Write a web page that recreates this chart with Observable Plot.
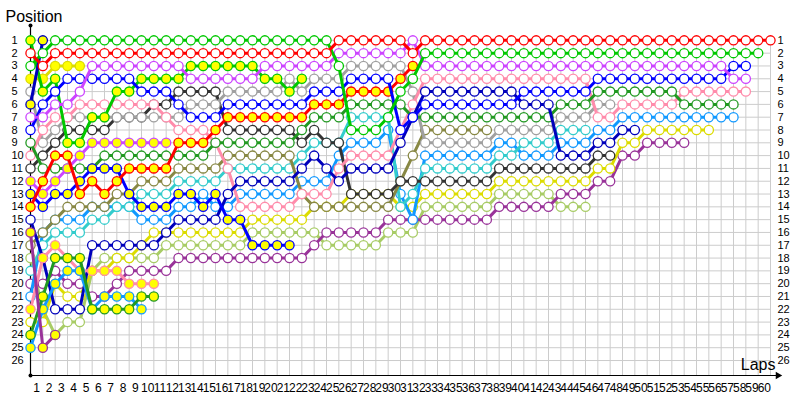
<!DOCTYPE html>
<html><head><meta charset="utf-8">
<script src="https://cdn.jsdelivr.net/npm/d3@7"></script>
<script src="https://cdn.jsdelivr.net/npm/@observablehq/plot@0.6"></script>
<style>
body{margin:0;background:#fff;}
svg{font-family:"Liberation Sans",Arial,sans-serif;}
</style></head><body><div id="chart"></div>
<script>
const laps = d3.range(1, 61);
const gridLaps = d3.range(0, 61);
const positions = d3.range(1, 27);

// positions per lap (index = lap, lap 0 = grid)
const red1 = [2,3,2,2,2,2,2,2,2,2, 2,2,2,2,2,2,2,2,2,2, 2,2,2,2,2,1,1,1,1,1, 1,2,1,1,1,1,1,1,1,1, 1,1,1,1,1,1,1,1,1,1, 1,1,1,1,1,1,1,1,1,1, 1];
const green1 = [3,2,1,1,1,1,1,1,1,1, 1,1,1,1,1,1,1,1,1,1, 1,1,1,1,1,3,8,8,8,7, 5,4,2,2,2,2,2,2,2,2, 2,2,2,2,2,2,2,2,2,2, 2,2,2,2,2,2,2,2,2,2];
const violet1 = [7,7,6,6,5,3,3,3,3,3, 3,3,3,4,4,4,4,4,4,3, 3,3,3,3,3,2,2,2,2,2, 2,1,3,3,3,3,3,3,3,3, 3,3,3,3,3,3,3,3,3,3, 3,3,3,3,3,3,3,4,4];
const blue1 = [8,6,5,4,4,4,4,4,4,5, 5,5,6,7,7,7,6,6,6,6, 6,6,6,5,5,5,4,4,4,4, 8,7,6,6,6,6,6,6,6,6, 5,5,5,5,5,5,4,4,4,4, 4,4,4,4,4,4,4,3,3];
const navy1 = [15,18,22,22,22,17,17,17,17,17, 17,16,15,15,15,15,13,12,12,12, 12,12,11,10,11,12,11,11,11,11, 9,7,5,5,5,5,5,5,5,5, 6,6,6,10,10,10,9,9,8,8];
const dkgreen1 = [9,11,11,11,11,11,10,10,10,10, 10,10,10,10,10,9,9,9,9,9, 9,9,8,7,7,7,6,6,6,6, 6,7,7,7,7,7,7,7,7,7, 7,7,7,6,6,6,5,5,5,5, 5,5,5,6,6,6,6,6];
const gray1 = [5,9,8,7,7,7,7,7,7,7, 7,7,7,6,6,6,5,5,5,5, 5,4,5,4,4,4,3,3,3,3, 3,5,9,9,9,9,9,9,8,8, 8,8,8,7,7,7,6,6];
const black1 = [11,10,9,8,8,8,8,7,7,7, 6,6,5,5,5,5,8,8,8,8, 8,8,9,8,9,9,13,13,13,13, 12,12,12,12,12,12,12,12,11,11, 11,11,11,11,11,11,10,10];
const pink1 = [10,8,7,7,6,6,6,6,6,6, 6,7,8,8,8,9,11,14,14,14, 14,14,13,13,13,11,10,10,10,10, 8,6,4,4,4,4,4,4,4,4, 4,4,4,4,4,4,7,7,6,6, 6,6,6,5,5,5,5,5,5];
const olive1 = [17,16,15,14,14,14,14,13,13,12, 12,12,11,11,11,11,10,10,10,10, 10,10,13,14,14,14,14,14,14,14, 12,10,8,8,8,8,8,8];
const cyan1 = [19,17,16,16,16,15,15,14,14,13, 13,13,12,12,12,12,11,11,11,11, 11,11,10,9,9,9,7,7,7,7, 14,13,11,11,11,11,11,11,10,10, 9,9,9,8,8,8];
const sky1 = [21,16,15,15,15,14,14,14,14,15, 15,15,14,14,13,14,14,13,13,13, 13,13,12,12,12,10,9,9,9,8, 13,15,10,10,10,10,10,10,9,9, 10,10,10,9,9,9,8,8,7,7, 7,7,7,7,7,7,7,7];
const yellow1 = [23,23,20,21,21,19,19,18,18,17, 16,16,16,16,16,16,16,16,15,15, 15,15,15,14,14,14,13,13,13,13, 14,14,13,13,13,13,13,13,12,12, 12,12,12,12,12,12,11,11,9,9, 8,8,8,8,8,8];
const dkpurple1 = [20,20,19,20,20,21,21,20,19,19, 19,19,18,18,18,18,18,18,18,18, 18,18,18,17,16,16,16,16,16,15, 15,15,15,15,15,15,15,15,14,14, 14,14,14,13,13,13,12,12,10,10, 9,9,9,9];
const ltgreen1 = [18,22,24,23,23,19,18,18,18,18, 18,17,17,17,17,17,17,17,16,16, 16,16,16,16,17,17,17,17,17,16, 16,16,14,14,14,14,14,14,13,13, 13,13,13,14,14,14];
const green2 = [1,5,4,9,9,7,7,5,5,4, 4,4,4,3,3,3,3,3,3,4, 4,5,4];
const red2 = [14,12,10,10,13,12,13,12,11,11, 11,11,9,9,9,8,7,7,7,7, 7,7,7,6,6,6,5,5,5,5, 4,3];
const blue2 = [13,14,13,13,12,11,11,11,13,14, 14,14,13,13,14,13,15,15,17,17, 17,17];
const navy2 = [6,1];
const yellow2 = [4,4,3,3,3];
const violet2 = [12,13,12,11,10,9,9,9,9,9, 9,9];
const dkpurple2 = [16,25,24];
const dkgreen2 = [24,21,18,18,18,22,22,22,22,21, 21];
const sky2 = [25,22,20,19,19,22,21,21,21,22];
const pink2 = [22,18,17,18,19,19,19,19,20,20, 20];

const HOLLOW = "#ffffff", PIT = "#ffff00";
const drivers = [
  {name: "ltgreen1", color: "#a8cc66", fill: HOLLOW, pos: ltgreen1},
  {name: "dkpurple1", color: "#993399", fill: HOLLOW, pos: dkpurple1},
  {name: "yellow1", color: "#dcdc00", fill: HOLLOW, pos: yellow1},
  {name: "sky1", color: "#1199ff", fill: HOLLOW, pos: sky1},
  {name: "cyan1", color: "#33cccc", fill: HOLLOW, pos: cyan1},
  {name: "olive1", color: "#888844", fill: HOLLOW, pos: olive1},
  {name: "black1", color: "#333333", fill: HOLLOW, pos: black1},
  {name: "gray1", color: "#a0a0a0", fill: HOLLOW, pos: gray1},
  {name: "pink1", color: "#ff8cab", fill: HOLLOW, pos: pink1},
  {name: "dkgreen1", color: "#229922", fill: HOLLOW, pos: dkgreen1},
  {name: "navy1", color: "#0000bb", fill: HOLLOW, pos: navy1},
  {name: "pink2", color: "#ff8cab", fill: PIT, pos: pink2},
  {name: "sky2", color: "#1199ff", fill: PIT, pos: sky2},
  {name: "dkgreen2", color: "#229922", fill: PIT, pos: dkgreen2},
  {name: "dkpurple2", color: "#993399", fill: PIT, pos: dkpurple2},
  {name: "violet2", color: "#cc44ff", fill: PIT, pos: violet2},
  {name: "blue2", color: "#0000ff", fill: PIT, pos: blue2},
  {name: "red2", color: "#ff0000", fill: PIT, pos: red2},
  {name: "yellow2", color: "#dcdc00", fill: PIT, pos: yellow2},
  {name: "green2", color: "#00c800", fill: PIT, pos: green2},
  {name: "navy2", color: "#0000bb", fill: PIT, pos: navy2},
  {name: "blue1", color: "#0000ff", fill: HOLLOW, pos: blue1},
  {name: "violet1", color: "#cc44ff", fill: HOLLOW, pos: violet1},
  {name: "green1", color: "#00c800", fill: HOLLOW, pos: green1},
  {name: "red1", color: "#ff0000", fill: HOLLOW, pos: red1}
];

const yTop = -0.16, yBottom = 27.17, xArrow = 60.6;

const driverMarks = drivers.flatMap(d => {
  const rows = d.pos.map((p, i) => ({lap: i, pos: p}));
  return [
    Plot.line(rows, {x: "lap", y: "pos", stroke: d.color, strokeWidth: 3}),
    Plot.dot(rows, {x: "lap", y: "pos", r: 4.6, stroke: d.color, strokeWidth: 1.3, fill: d.fill})
  ];
});

const chart = Plot.plot({
  width: 800, height: 400,
  marginLeft: 30, marginRight: 30, marginTop: 25, marginBottom: 25,
  x: {domain: [0, 60], axis: null},
  y: {domain: [yTop, yBottom], reverse: true, axis: null},
  style: {background: "#fff", fontFamily: "'Liberation Sans', Arial, sans-serif"},
  marks: [
    Plot.ruleY(positions, {x1: 0, x2: 60, stroke: "#cccccc", strokeWidth: 1}),
    Plot.ruleX(gridLaps, {y1: 1, y2: yBottom, stroke: "#cccccc", strokeWidth: 1}),
    Plot.ruleX([0], {y1: yTop, y2: yBottom, stroke: "#000", strokeWidth: 1.2}),
    Plot.ruleY([yBottom], {x1: 0, x2: xArrow, stroke: "#000", strokeWidth: 1.2}),
    Plot.dot([0], {x: 0, y: yTop, r: 2, fill: "#000"}),
    Plot.dot([0], {x: 0, y: yBottom, r: 2, fill: "#000"}),
    Plot.dot([0], {x: xArrow, y: yBottom, symbol: "triangle2", rotate: 90, r: 3.6, fill: "#000"}),
    ...driverMarks,
    Plot.text(laps, {x: d => d - 0.5, text: d => String(d), frameAnchor: "bottom", dy: 13, lineAnchor: "middle", fontSize: 12, fill: "#000"}),
    Plot.text(positions, {y: d => d, text: d => String(d), frameAnchor: "left", dx: -19, textAnchor: "start", lineAnchor: "middle", fontSize: 11, fill: "#000"}),
    Plot.text(positions, {y: d => d, text: d => String(d), frameAnchor: "right", dx: 7, textAnchor: "start", lineAnchor: "middle", fontSize: 11, fill: "#000"}),
    Plot.text(["Position"], {frameAnchor: "top-left", dx: -25, dy: -9, textAnchor: "start", lineAnchor: "middle", fontSize: 16, fill: "#000"}),
    Plot.text(["Laps"], {frameAnchor: "bottom-right", dx: 5, dy: -11, textAnchor: "end", lineAnchor: "middle", fontSize: 16, fill: "#000"})
  ]
});
document.getElementById("chart").appendChild(chart);
</script></body></html>
